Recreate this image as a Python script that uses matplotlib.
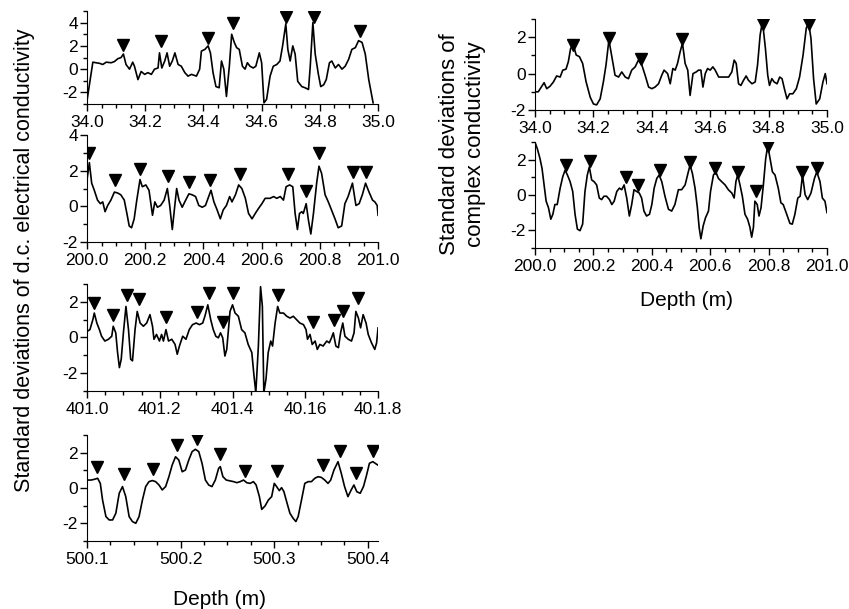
import matplotlib
matplotlib.use("Agg")
import matplotlib.pyplot as plt
from matplotlib.ticker import MultipleLocator, FixedLocator, FixedFormatter, FormatStrFormatter

plt.rcParams['font.family'] = ['Liberation Sans', 'DejaVu Sans']
plt.rcParams['axes.unicode_minus'] = False

# ---- d.c. conductivity, 34-35 m ----
dc34_depth = [
    34.000, 34.020, 34.031, 34.043, 34.054, 34.066, 34.083, 34.094, 34.106, 34.117,
    34.125, 34.134, 34.146, 34.157, 34.163, 34.175, 34.186, 34.198, 34.209, 34.221,
    34.232, 34.244, 34.249, 34.257, 34.267, 34.275, 34.284, 34.293, 34.302, 34.313,
    34.324, 34.336, 34.347, 34.359, 34.376, 34.387, 34.393, 34.405, 34.416, 34.424,
    34.433, 34.443, 34.454, 34.462, 34.470, 34.479, 34.489, 34.497, 34.506, 34.514,
    34.523, 34.534, 34.543, 34.551, 34.560, 34.571, 34.580, 34.592, 34.600, 34.608,
    34.617, 34.629, 34.640, 34.652, 34.663, 34.672, 34.683, 34.690, 34.698, 34.707,
    34.715, 34.724, 34.738, 34.749, 34.761, 34.767, 34.776, 34.784, 34.795, 34.803,
    34.813, 34.822, 34.833, 34.841, 34.853, 34.864, 34.876, 34.887, 34.899, 34.910,
    34.922, 34.933, 34.945, 34.956, 34.968, 34.983]
dc34_sd = [
    -2.7, 0.6, 0.55, 0.5, 0.4, 0.6, 0.55, 0.65, 0.9, 1.0,
    1.3, 0.4, 0.0, 0.6, 0.25, -0.9, -0.2, -0.45, -0.3, -0.45,
    0.0, 0.1, 1.4, 0.1, 0.7, 1.4, 0.25, 0.7, 1.4, 0.4,
    0.25, -0.3, -0.6, -0.45, -0.6, 0.0, 1.55, 1.7, 2.0, 1.4,
    -0.3, -1.5, -1.6, 0.7, 0.0, -2.35, 0.25, 3.0, 2.3, 1.85,
    1.7, 0.25, 0.0, 0.55, 0.25, 0.1, 0.25, 1.4, 0.55, -2.9,
    -2.6, -0.6, 0.25, 0.4, 0.7, 2.0, 3.9, 1.7, 0.7, 2.0,
    1.3, -1.05, -1.5, -1.6, -1.75, 0.25, 4.0, 1.3, -0.45, -1.5,
    -1.35, -0.9, 0.55, 0.7, 0.1, 0.4, 0.0, 0.25, 0.85, 1.7,
    1.85, 2.45, 2.3, 1.3, -0.9, -2.9]
dc34_peak_depth = [34.125, 34.253, 34.417, 34.502, 34.684, 34.779, 34.938]
dc34_peak_sd = [2.1, 2.43, 2.67, 3.97, 4.46, 4.52, 3.25]

# ---- d.c. conductivity, 200-201 m ----
dc200_depth = [
    200.000, 200.008, 200.016, 200.025, 200.036, 200.046, 200.054, 200.062, 200.071, 200.082,
    200.094, 200.105, 200.116, 200.128, 200.137, 200.145, 200.153, 200.162, 200.171, 200.182,
    200.190, 200.202, 200.213, 200.225, 200.233, 200.242, 200.253, 200.265, 200.276, 200.284,
    200.293, 200.301, 200.308, 200.316, 200.327, 200.339, 200.350, 200.361, 200.373, 200.384,
    200.396, 200.407, 200.418, 200.426, 200.436, 200.447, 200.458, 200.468, 200.479, 200.490,
    200.498, 200.510, 200.521, 200.532, 200.544, 200.555, 200.567, 200.578, 200.590, 200.601,
    200.612, 200.629, 200.641, 200.652, 200.664, 200.675, 200.684, 200.696, 200.707, 200.715,
    200.723, 200.730, 200.738, 200.743, 200.753, 200.761, 200.769, 200.778, 200.789, 200.797,
    200.806, 200.818, 200.829, 200.840, 200.852, 200.863, 200.875, 200.886, 200.897, 200.912,
    200.924, 200.935, 200.946, 200.957, 200.969, 200.981, 200.989, 200.997, 201.000]
dc200_sd = [
    1.5, 2.45, 1.3, 0.9, 0.35, 0.15, 0.25, -0.3, 0.05, 0.35,
    0.8, 0.75, 0.65, 0.35, -0.4, -1.1, -1.2, -0.7, 0.35, 1.5,
    1.1, 1.2, 0.9, -0.5, 0.25, -0.05, 0.05, 0.35, 1.0, 0.05,
    -1.3, -0.05, 1.0, 0.35, -0.05, 0.35, 0.7, 0.65, 0.55, 0.05,
    -0.05, 0.05, 0.55, 0.9, 0.25, -0.2, -0.7, -0.2, 0.05, 0.55,
    0.25, 0.65, 1.2, 1.0, 0.45, -0.4, -0.7, -0.4, -0.1, 0.15,
    0.45, 0.45, 0.55, 0.45, 0.55, 0.35, 1.1, 1.2, 1.1, -0.4,
    -1.3, -0.4, -0.3, -0.4, 0.15, -0.8, -1.55, -0.4, 1.3, 2.25,
    1.85, 0.65, 0.25, -0.2, -0.7, -1.2, -1.1, 0.15, 0.55, 1.3,
    0.05, 0.15, 0.65, 1.3, 0.8, 0.35, 0.25, 0.05, -0.5]
dc200_peak_depth = [200.008, 200.096, 200.182, 200.278, 200.350, 200.424,
                    200.525, 200.689, 200.753, 200.797, 200.914, 200.958]
dc200_peak_sd = [3.0, 1.5, 2.1, 1.7, 1.35, 1.5, 1.8, 1.8, 0.86, 3.0, 1.9, 1.9]

# ---- d.c. conductivity, 401.0-401.8 m ----
dc401_depth = [
    401.001, 401.008, 401.016, 401.020, 401.027, 401.034, 401.040, 401.049, 401.059, 401.068,
    401.072, 401.079, 401.084, 401.089, 401.094, 401.100, 401.107, 401.114, 401.120, 401.125,
    401.132, 401.138, 401.146, 401.155, 401.164, 401.173, 401.180, 401.184, 401.191, 401.199,
    401.205, 401.210, 401.217, 401.224, 401.233, 401.242, 401.248, 401.254, 401.263, 401.272,
    401.281, 401.290, 401.300, 401.309, 401.318, 401.324, 401.332, 401.340, 401.347, 401.354,
    401.361, 401.367, 401.373, 401.379, 401.384, 401.388, 401.393, 401.400, 401.407, 401.416,
    401.425, 401.434, 401.443, 401.453, 401.459, 401.464, 401.471, 401.477, 401.482, 401.486,
    401.492, 401.498, 401.505, 401.510, 401.517, 401.524, 401.530, 401.540, 401.549, 401.558,
    401.567, 401.576, 401.585, 401.595, 401.602, 401.606, 401.613, 401.619, 401.627, 401.633,
    401.640, 401.649, 401.659, 401.666, 401.672, 401.677, 401.684, 401.691, 401.697, 401.703,
    401.709, 401.718, 401.727, 401.734, 401.739, 401.746, 401.752, 401.759, 401.767, 401.773,
    401.782, 401.791, 401.796, 401.800]
dc401_sd = [
    0.35, 0.44, 1.0, 1.37, 0.81, 0.44, 0.07, -0.2, -0.1, 0.07,
    0.63, 0.26, -0.85, -1.69, -1.22, 0.26, 1.74, 0.44, -1.22, -1.31,
    0.44, 1.46, 0.81, 0.63, 0.81, 1.28, 0.63, -0.1, 0.17, -0.2,
    0.17, -0.2, 0.44, -0.2, -0.1, -0.39, -0.94, -0.48, 0.07, -0.1,
    0.44, 0.72, 0.81, 0.72, 0.81, 1.19, 1.83, 1.0, 0.44, 0.07,
    -0.02, 0.26, -0.02, -1.04, -0.67, 0.26, 1.46, 1.83, 1.37, 1.19,
    0.44, 0.26, -0.39, -0.85, -2.15, -3.1, -0.48, 2.85, 1.74, -3.1,
    -2.33, -0.85, -0.2, -0.48, 0.81, 1.74, 1.37, 1.37, 1.19, 1.09,
    1.19, 1.0, 0.81, 0.72, 0.44, -0.1, 0.17, -0.39, -0.2, -0.67,
    -0.39, -0.48, -0.2, -0.3, -0.02, 0.26, -0.48, -0.57, 0.26, 0.81,
    0.07, -0.1, -0.2, 0.26, 1.46, 1.09, 0.54, 1.28, 0.81, 0.17,
    -0.3, -0.67, -0.3, 0.54]
dc401_peak_depth = [401.019, 401.072, 401.109, 401.142, 401.218, 401.301, 401.335,
                    401.375, 401.400, 401.526, 401.620, 401.679, 401.705, 401.746]
dc401_peak_sd = [1.96, 1.28, 2.39, 2.15, 1.15, 1.41, 2.52, 0.85, 2.48, 2.39,
                 0.85, 0.96, 1.46, 2.2]
dc401_ticks = ["401.0", "401.2", "401.4", "40.16", "40.1.8"]

# ---- d.c. conductivity, 500.1-500.4 m ----
dc500_depth = [
    500.1007, 500.1043, 500.1078, 500.1113, 500.1142, 500.1166, 500.1202, 500.1237, 500.1273, 500.1308,
    500.1344, 500.1379, 500.1414, 500.1450, 500.1485, 500.1521, 500.1556, 500.1592, 500.1627, 500.1662,
    500.1698, 500.1733, 500.1769, 500.1804, 500.1840, 500.1875, 500.1910, 500.1946, 500.1981, 500.2017,
    500.2052, 500.2087, 500.2123, 500.2158, 500.2194, 500.2229, 500.2265, 500.2300, 500.2335, 500.2371,
    500.2406, 500.2424, 500.2452, 500.2488, 500.2530, 500.2566, 500.2601, 500.2637, 500.2672, 500.2707,
    500.2743, 500.2778, 500.2807, 500.2842, 500.2867, 500.2902, 500.2938, 500.2973, 500.3001, 500.3026,
    500.3055, 500.3079, 500.3104, 500.3133, 500.3168, 500.3203, 500.3232, 500.3256, 500.3292, 500.3327,
    500.3363, 500.3398, 500.3434, 500.3469, 500.3504, 500.3540, 500.3575, 500.3604, 500.3639, 500.3682,
    500.3717, 500.3752, 500.3788, 500.3823, 500.3852, 500.3883, 500.3919, 500.3954, 500.3983, 500.4018,
    500.4054, 500.4107]
dc500_sd = [
    0.45, 0.45, 0.49, 0.55, 0.26, -0.68, -1.62, -1.81, -1.81, -1.43,
    -0.3, 0.08, -0.49, -1.62, -1.9, -2.0, -1.62, -0.68, 0.08, 0.36,
    0.42, 0.36, 0.17, -0.11, 0.08, 0.64, 1.3, 1.77, 1.58, 0.92,
    1.02, 1.58, 2.06, 2.19, 2.06, 1.4, 0.45, 0.17, 0.08, 0.45,
    1.11, 1.21, 0.64, 0.45, 0.4, 0.36, 0.3, 0.36, 0.45, 0.3,
    0.26, 0.36, 0.17, -0.49, -1.21, -1.02, -0.68, -0.49, 0.26, 0.08,
    -0.15, 0.02, -0.21, -0.77, -1.43, -1.72, -1.9, -1.62, -0.68, 0.26,
    0.36, 0.36, 0.55, 0.64, 0.6, 0.45, 0.26, 0.45, 1.02, 1.49,
    0.83, 0.08, -0.49, -0.11, 0.17, -0.21, -0.3, 0.08, 0.64, 1.4,
    1.49, 1.3]
dc500_peak_depth = [500.111, 500.139, 500.170, 500.196, 500.217, 500.242,
                    500.269, 500.303, 500.352, 500.370, 500.387, 500.406]
dc500_peak_sd = [1.21, 0.79, 1.08, 2.41, 2.75, 1.91, 0.96, 0.96, 1.30, 2.11, 0.83, 2.11]

# ---- complex conductivity, 34-35 m ----
cx34_depth = [
    34.000, 34.011, 34.023, 34.031, 34.040, 34.051, 34.063, 34.074, 34.086, 34.095,
    34.106, 34.114, 34.122, 34.131, 34.141, 34.152, 34.163, 34.175, 34.189, 34.200,
    34.211, 34.223, 34.234, 34.243, 34.253, 34.263, 34.274, 34.286, 34.297, 34.309,
    34.320, 34.331, 34.343, 34.354, 34.366, 34.377, 34.389, 34.400, 34.411, 34.423,
    34.434, 34.442, 34.454, 34.463, 34.472, 34.480, 34.488, 34.497, 34.505, 34.514,
    34.523, 34.531, 34.541, 34.552, 34.560, 34.568, 34.575, 34.583, 34.591, 34.600,
    34.609, 34.617, 34.629, 34.640, 34.651, 34.663, 34.674, 34.682, 34.689, 34.697,
    34.705, 34.714, 34.723, 34.731, 34.743, 34.754, 34.762, 34.771, 34.779, 34.789,
    34.797, 34.803, 34.811, 34.819, 34.829, 34.838, 34.846, 34.854, 34.863, 34.872,
    34.883, 34.895, 34.906, 34.918, 34.929, 34.937, 34.945, 34.954, 34.963, 34.975,
    34.986, 34.994, 35.000]
cx34_sd = [
    -1.0, -1.0, -0.7, -0.5, -0.83, -0.7, -0.46, -0.13, -0.19, 0.19,
    0.24, 0.65, 1.39, 1.57, 1.02, 0.93, 0.56, -0.46, -1.3, -1.67,
    -1.72, -1.39, -0.46, 0.46, 1.85, 0.93, -0.09, -0.19, 0.09, -0.19,
    -0.28, 0.19, 0.37, 0.74, 0.46, -0.09, -0.74, -0.83, -0.74, -0.56,
    -0.09, 0.19, 0.0, -0.56, 0.28, 0.19, 0.56, 1.2, 1.67, 0.56,
    0.19, -1.2, 0.0, 0.09, 0.19, 0.19, -0.74, 0.0, 0.28, 0.19,
    0.37, 0.19, -0.19, -0.19, -0.19, -0.19, 0.09, 0.74, 0.56, -0.56,
    -0.65, -0.37, -0.13, -0.37, -0.56, -0.46, 0.46, 2.13, 2.87, 1.39,
    -0.09, -0.65, -0.28, -0.46, -0.56, -0.19, -0.28, -0.83, -1.39, -1.11,
    -1.11, -0.83, -0.19, 1.02, 2.5, 2.78, 1.94, -0.28, -1.67, -1.39,
    -0.46, 0.0, -0.56]
cx34_peak_depth = [34.131, 34.255, 34.362, 34.505, 34.781, 34.937]
cx34_peak_sd = [1.57, 1.98, 0.78, 1.91, 2.72, 2.72]

# ---- complex conductivity, 200-201 m ----
cx200_depth = [
    200.000, 200.008, 200.017, 200.024, 200.031, 200.038, 200.046, 200.054, 200.061, 200.068,
    200.076, 200.086, 200.095, 200.103, 200.111, 200.120, 200.129, 200.137, 200.145, 200.154,
    200.163, 200.171, 200.179, 200.186, 200.194, 200.202, 200.211, 200.220, 200.228, 200.236,
    200.245, 200.255, 200.263, 200.271, 200.280, 200.289, 200.297, 200.305, 200.314, 200.323,
    200.331, 200.339, 200.348, 200.357, 200.365, 200.373, 200.382, 200.392, 200.400, 200.408,
    200.417, 200.425, 200.434, 200.445, 200.457, 200.468, 200.479,
    200.491, 200.502, 200.514, 200.525, 200.531, 200.539, 200.548, 200.556, 200.562, 200.568,
    200.576, 200.584, 200.594, 200.601, 200.611, 200.619, 200.628, 200.639, 200.651, 200.662,
    200.674, 200.682, 200.688, 200.694, 200.702, 200.710, 200.719, 200.728, 200.736, 200.742,
    200.748, 200.753, 200.761, 200.767, 200.774, 200.782, 200.790, 200.797, 200.805, 200.813,
    200.822, 200.833, 200.842, 200.850, 200.862, 200.873, 200.881, 200.890, 200.900, 200.908,
    200.916, 200.925, 200.934, 200.945, 200.957, 200.965, 200.976, 200.984, 200.993, 201.000]
cx200_sd = [
    2.98, 2.61, 2.06, 1.5, 0.57, -0.35, -0.72, -1.37, -1.09, -0.54,
    -0.54, 0.39, 1.04, 1.41, 1.13, 0.76, 0.2, -1.09, -1.93, -2.02,
    -1.65, 0.2, 1.13, 1.59, 0.85, 0.76, 0.57, -0.17, -0.26, -0.07,
    -0.07, -0.26, -0.54, -0.35, 0.2, 0.39, 0.3, 0.57, -0.17, -1.19,
    -0.54, 0.3, 0.2, 0.11, -0.17, -0.91, -1.19, -1.09, -0.54, 0.39,
    0.94, 1.13, 0.76, -0.07, -0.81, -0.91, -0.54,
    0.3, 0.3, 0.57, 1.31, 1.69, 1.22, 0.39, -0.72, -1.83, -2.48,
    -1.74, -1.28, -0.91, 0.2, 1.13, 1.31, 0.94, 0.76, 0.57, 0.3,
    0.11, -0.17, 0.76, 1.13, 0.57, -0.07, -1.09, -1.37, -1.83, -2.39,
    -1.83, -0.35, -0.54, -1.19, -0.72, 0.57, 2.06, 2.8, 2.06, 1.31,
    1.13, 0.39, -0.44, -0.54, -1.09, -1.61, -1.65, -1.09, -0.17, -0.07,
    1.13, 0.02, -0.26, 0.11, 0.94, 1.31, 0.76, -0.17, -0.35, -1.0]
cx200_peak_depth = [200.106, 200.188, 200.312, 200.354, 200.428, 200.531,
                    200.616, 200.694, 200.757, 200.797, 200.916, 200.965]
cx200_peak_sd = [1.69, 1.91, 1.04, 0.54, 1.41, 1.85, 1.54, 1.31, 0.2, 2.76, 1.31, 1.54]

# figure: 849 x 609 px
fig = plt.figure(figsize=(8.49, 6.09), dpi=100)


def panel(rect, depth, sd, pk_depth, pk_sd, xlim, ylim, xmajor, xminor):
    ax = fig.add_axes(rect)
    ax.plot(depth, sd, color='black', lw=1.2)
    ax.plot(pk_depth, pk_sd, 'v', color='black', ms=8, clip_on=True)
    ax.set_xlim(*xlim)
    ax.set_ylim(*ylim)
    ax.spines['top'].set_visible(False)
    ax.spines['right'].set_visible(False)
    ax.xaxis.set_major_locator(MultipleLocator(xmajor))
    ax.xaxis.set_minor_locator(MultipleLocator(xminor))
    ax.yaxis.set_major_locator(MultipleLocator(2))
    ax.yaxis.set_minor_locator(MultipleLocator(1))
    ax.yaxis.set_major_formatter(FormatStrFormatter('%d'))
    ax.tick_params(which='major', direction='out', length=5, width=1, labelsize=12.5)
    ax.tick_params(which='minor', direction='out', length=3, width=1)
    ax.tick_params(axis='y', which='major', pad=1.5)
    ax.tick_params(axis='x', which='major', pad=3)
    return ax


LX, LW = 0.1025, 0.3428
RX, RW = 0.6302, 0.3439

ax1 = panel([LX, 0.8292, LW, 0.1527], dc34_depth, dc34_sd,
            dc34_peak_depth, dc34_peak_sd, (34.0, 35.0), (-3, 5), 0.2, 0.05)
ax1.xaxis.set_major_formatter(FormatStrFormatter('%.1f'))

ax2 = panel([LX, 0.6026, LW, 0.1757], dc200_depth, dc200_sd,
            dc200_peak_depth, dc200_peak_sd, (200.0, 201.0), (-2, 4), 0.2, 0.05)
ax2.xaxis.set_major_formatter(FormatStrFormatter('%.1f'))

ax3 = panel([LX, 0.3580, LW, 0.1757], dc401_depth, dc401_sd,
            dc401_peak_depth, dc401_peak_sd, (401.0, 401.8), (-3, 3), 0.2, 0.05)
ax3.xaxis.set_major_locator(FixedLocator([401.0, 401.2, 401.4, 401.6, 401.8]))
ax3.xaxis.set_major_formatter(FixedFormatter(dc401_ticks))

ax4 = panel([LX, 0.1117, LW, 0.1740], dc500_depth, dc500_sd,
            dc500_peak_depth, dc500_peak_sd, (500.1, 500.411), (-3, 3), 0.1, 0.025)
ax4.xaxis.set_major_formatter(FormatStrFormatter('%.1f'))

ax5 = panel([RX, 0.8194, RW, 0.1494], cx34_depth, cx34_sd,
            cx34_peak_depth, cx34_peak_sd, (34.0, 35.0), (-2, 3), 0.2, 0.05)
ax5.xaxis.set_major_formatter(FormatStrFormatter('%.1f'))

ax6 = panel([RX, 0.5928, RW, 0.1740], cx200_depth, cx200_sd,
            cx200_peak_depth, cx200_peak_sd, (200.0, 201.0), (-3, 3), 0.2, 0.05)
ax6.xaxis.set_major_formatter(FormatStrFormatter('%.1f'))

fig.text(0.029, 0.573, 'Standard deviations of d.c. electrical conductivity',
         rotation=90, ha='center', va='center', fontsize=15.5)
fig.text(0.259, 0.015, 'Depth (m)', ha='center', va='center', fontsize=15)
fig.text(0.545, 0.763, 'Standard deviations of\ncomplex conductivity',
         rotation=90, ha='center', va='center', fontsize=16,
         multialignment='center', linespacing=1.3)
fig.text(0.809, 0.507, 'Depth (m)', ha='center', va='center', fontsize=15)

fig.savefig('out.png', dpi=100)
